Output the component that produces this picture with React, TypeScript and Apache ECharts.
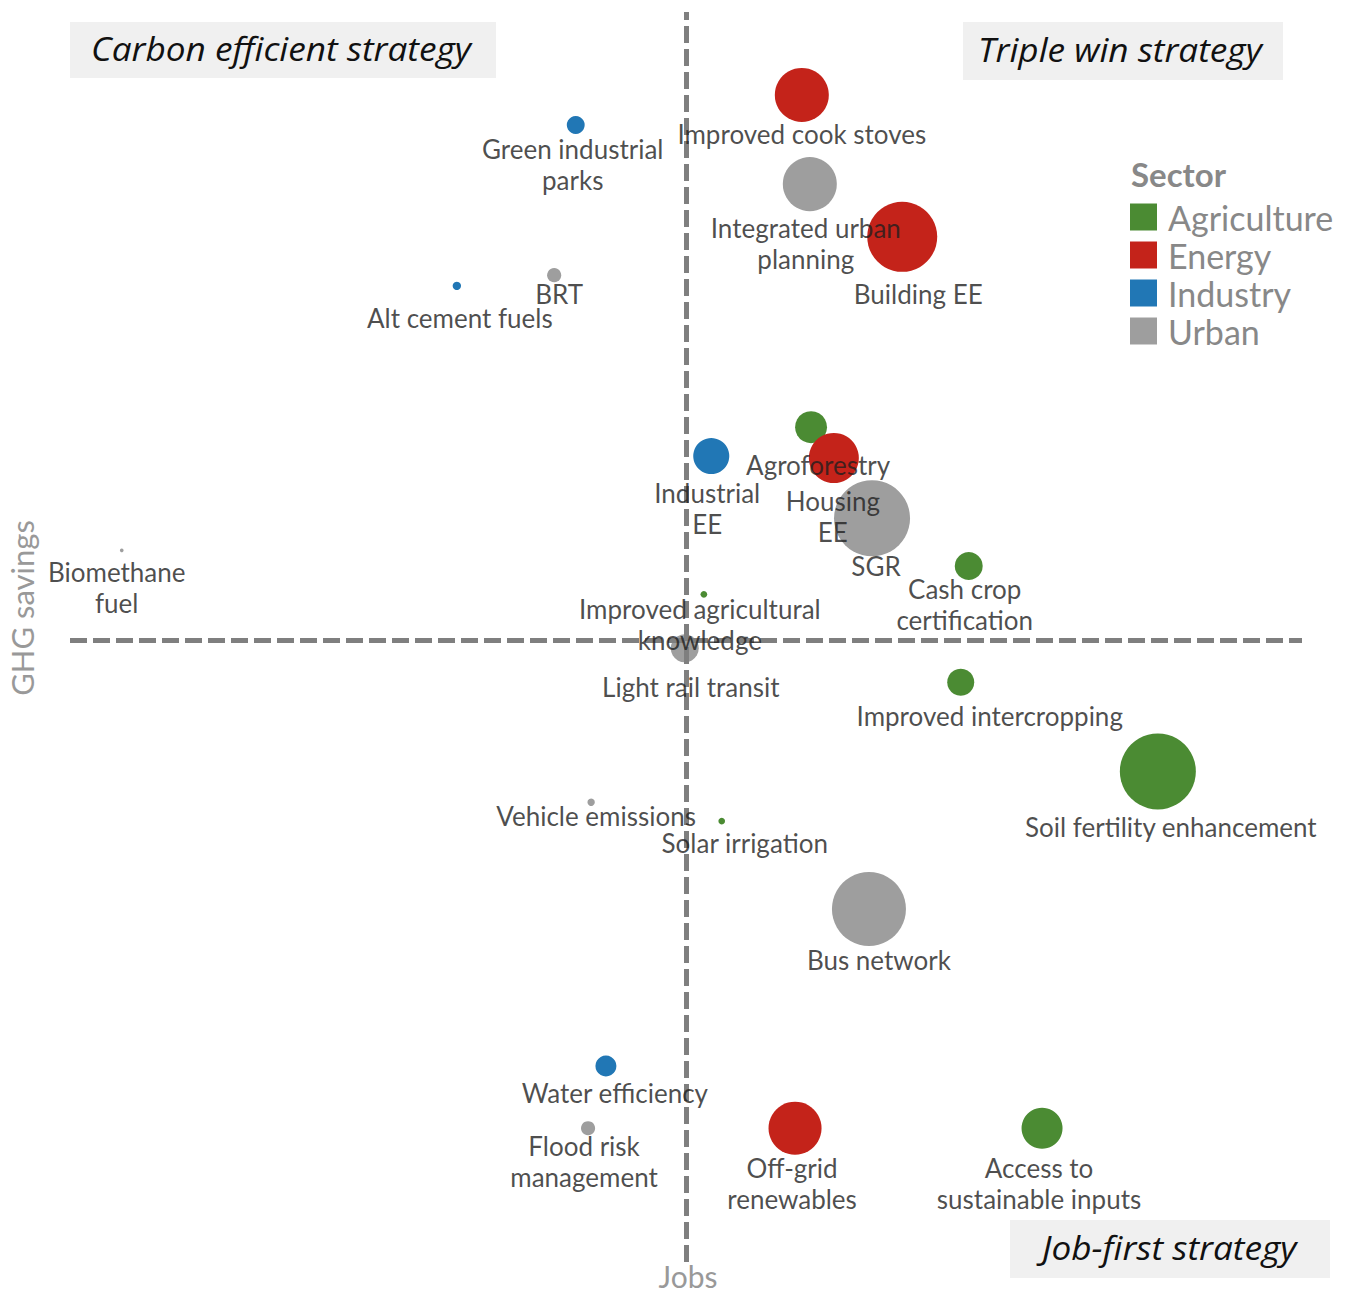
import React, { useEffect, useRef } from "react";
import * as echarts from "echarts";

// ---- Data ----
const sectors = ["Agriculture", "Energy", "Industry", "Urban"];
const sectorColors = ["#4b8b33", "#c4231a", "#2177b5", "#9e9e9e"];

const names = [
  "Improved cook stoves",
  "Green industrial\nparks",
  "Integrated urban\nplanning",
  "Building EE",
  "BRT",
  "Alt cement fuels",
  "Agroforestry",
  "Housing\nEE",
  "Industrial\nEE",
  "SGR",
  "Cash crop\ncertification",
  "Biomethane\nfuel",
  "Improved agricultural\nknowledge",
  "Light rail transit",
  "Improved intercropping",
  "Soil fertility enhancement",
  "Vehicle emissions",
  "Solar irrigation",
  "Bus network",
  "Water efficiency",
  "Flood risk\nmanagement",
  "Off-grid\nrenewables",
  "Access to\nsustainable inputs",
];
const sectorOf = [
  "Energy", "Industry", "Urban", "Energy", "Urban", "Industry", "Agriculture", "Energy",
  "Industry", "Urban", "Agriculture", "Urban", "Agriculture", "Urban", "Agriculture",
  "Agriculture", "Urban", "Agriculture", "Urban", "Industry", "Urban", "Energy", "Agriculture",
];
// Jobs (x) and GHG savings (y), relative index
const jobs = [
  18.8, -17.9, 20.1, 35.1, -21.4, -37.2, 20.3, 24.0, 4.1, 30.2, 45.9, -91.6,
  2.9, -0.2, 44.6, 76.6, -15.4, 5.8, 29.7, -13.0, -15.9, 17.7, 57.8,
];
const ghg = [
  86.8, 82.0, 72.6, 64.2, 58.1, 56.4, 33.9, 29.0, 29.3, 19.4, 11.8, 14.3,
  7.3, -1.3, -6.7, -20.9, -25.8, -28.8, -42.8, -67.8, -77.7, -77.7, -77.7,
];
// bubble magnitude (area-proportional)
const magnitude = [
  29.2, 3.2, 29.2, 49, 2.0, 0.7, 10.2, 25, 13, 57.8, 7.8, 0.14,
  0.45, 7.8, 7.3, 57.8, 0.55, 0.45, 54.8, 4.4, 2.0, 28.1, 16.8,
];

// ---- Label layout (nudges, px: dx, dy to centre of first text line) ----
const labelDx = [0, -3, -4, 16, 5, 3, 7, -1, -4, 4, -4, -5, -4, 6, 29, 13, 5, 23, 10, 9, -4, -3, -3];
const labelDy = [39, 24, 44, 57, 19, 32, 38, 43, 37, 48, 23, 22, 15, 39, 34, 56, 14, 22, 51, 27, 18, 40, 40];

const quadrantLabels = ["Carbon efficient strategy", "Triple win strategy", "Job-first strategy"];

const FONT = "Lato, 'Open Sans', sans-serif";
const QFONT = "'Open Sans', Lato, sans-serif";
const LINE_H = 31;

export default function App() {
  const ref = useRef<HTMLDivElement>(null);

  useEffect(() => {
    if (!ref.current) return;
    const chart = echarts.init(ref.current, undefined, { renderer: "svg" });

    const pointSeries = sectors.map((sec, si) => ({
      type: "scatter",
      name: sec,
      z: 2,
      silent: true,
      symbolSize: (val: number[]) => Math.sqrt(val[2]) * 10,
      itemStyle: { color: sectorColors[si], opacity: 1 },
      label: { show: false },
      emphasis: { disabled: true },
      data: names
        .map((n, i) => ({ i, n }))
        .filter((d) => sectorOf[d.i] === sec)
        .map((d) => ({ name: d.n, value: [jobs[d.i], ghg[d.i], magnitude[d.i]] })),
      ...(si === 0
        ? {
            markLine: {
              silent: true,
              z: 3,
              symbol: ["none", "none"],
              label: { show: false },
              lineStyle: { color: "#7f7f7f", width: 5, type: [17, 6], opacity: 1 },
              emphasis: { disabled: true },
              data: [{ xAxis: 0 }, { yAxis: 0 }],
            },
          }
        : {}),
    }));

    const labelSeries = {
      type: "scatter",
      name: "labels",
      z: 10,
      silent: true,
      symbolSize: 1,
      itemStyle: { color: "rgba(0,0,0,0)" },
      emphasis: { disabled: true },
      label: {
        show: true,
        position: ["50%", "50%"],
        align: "center",
        verticalAlign: "top",
        formatter: "{b}",
        fontFamily: FONT,
        fontSize: 26,
        lineHeight: LINE_H,
        color: "#1e1e1e",
      },
      data: names.map((n, i) => ({
        name: n,
        value: [jobs[i], ghg[i]],
        label: { offset: [labelDx[i], labelDy[i] - LINE_H / 2] },
      })),
    };

    const box = (x: number, y: number, w: number, h: number, tx: number, text: string) => ({
      type: "group",
      children: [
        { type: "rect", shape: { x, y, width: w, height: h }, style: { fill: "#f0f0f0" } },
        {
          type: "text",
          x: tx,
          y: y + h / 2 - 1,
          scaleX: 1.1,
          style: {
            text,
            fill: "#111",
            font: `italic 32px ${QFONT}`,
            align: "left",
            verticalAlign: "middle",
            textAlign: "left",
            textVerticalAlign: "middle",
          },
        },
      ],
    });

    chart.setOption({
      animation: false,
      backgroundColor: "#ffffff",
      grid: { left: 70, right: 49, top: 12, bottom: 31 },
      xAxis: {
        type: "value",
        min: -100,
        max: 100,
        axisLine: { show: false },
        axisTick: { show: false },
        axisLabel: { show: false },
        splitLine: { show: false },
      },
      yAxis: {
        type: "value",
        min: -99,
        max: 100,
        axisLine: { show: false },
        axisTick: { show: false },
        axisLabel: { show: false },
        splitLine: { show: false },
      },
      legend: {
        data: sectors,
        orient: "vertical",
        left: 1130,
        top: 200,
        padding: 0,
        icon: "rect",
        itemWidth: 27,
        itemHeight: 27,
        itemGap: 4,
        selectedMode: false,
        textStyle: {
          fontFamily: FONT,
          fontSize: 34,
          color: "#888888",
          padding: [0, 0, 0, 6],
        },
      },
      graphic: [
        box(70, 22, 426, 56, 91, quadrantLabels[0]),
        box(963, 22, 320, 58, 978, quadrantLabels[1]),
        box(1010, 1220, 320, 58, 1042, quadrantLabels[2]),
        {
          type: "text",
          x: 1131,
          y: 174,
          style: {
            text: "Sector",
            fill: "#888888",
            font: `bold 33px ${FONT}`,
            align: "left",
            verticalAlign: "middle",
            textAlign: "left",
            textVerticalAlign: "middle",
          },
        },
        {
          type: "text",
          x: 688,
          y: 1276,
          style: {
            text: "Jobs",
            fill: "#999999",
            font: `30px ${FONT}`,
            align: "center",
            verticalAlign: "middle",
            textAlign: "center",
            textVerticalAlign: "middle",
          },
        },
        {
          type: "text",
          x: 22,
          y: 608,
          rotation: Math.PI / 2,
          style: {
            text: "GHG savings",
            fill: "#999999",
            font: `31px ${FONT}`,
            align: "center",
            verticalAlign: "middle",
            textAlign: "center",
            textVerticalAlign: "middle",
          },
        },
      ],
      series: [...pointSeries, labelSeries],
    });

    return () => chart.dispose();
  }, []);

  return (
    <div
      ref={ref}
      style={{ position: "fixed", left: 0, top: 0, width: 1351, height: 1293, background: "#fff" }}
    />
  );
}
